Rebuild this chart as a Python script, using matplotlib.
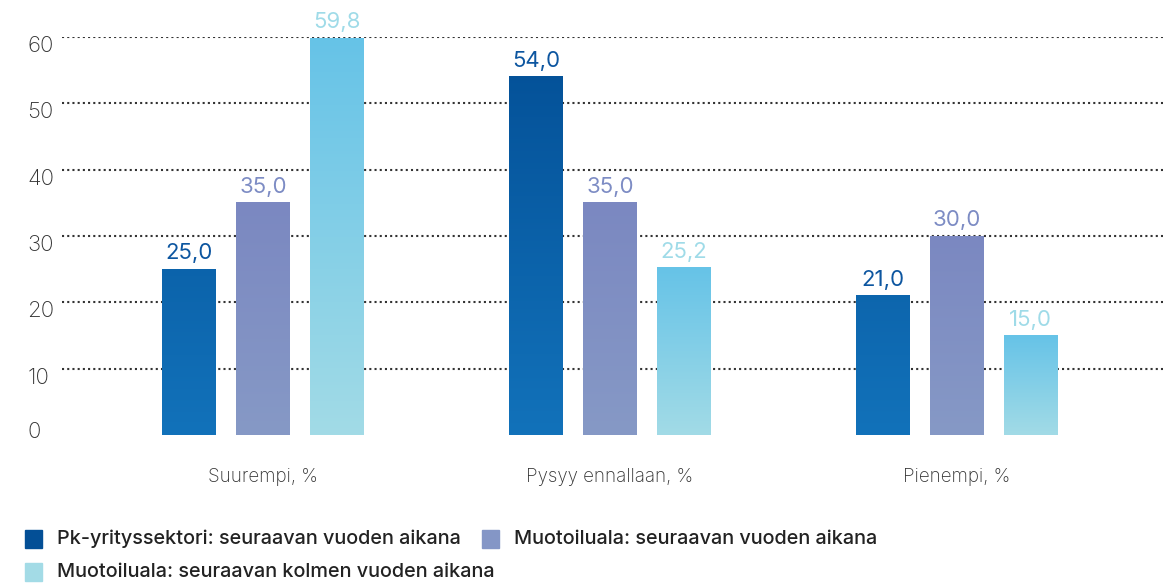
import numpy as np
import matplotlib.pyplot as plt
import matplotlib as mpl
from matplotlib.patches import Rectangle
from matplotlib.colors import LinearSegmentedColormap
from matplotlib.transforms import ScaledTranslation

mpl.rc('font', family=['Inter', 'DejaVu Sans'])

# --- data ---
categories = ['Suurempi, %', 'Pysyy ennallaan, %', 'Pienempi, %']
series_names = ['Pk-yrityssektori: seuraavan vuoden aikana',
                'Muotoiluala: seuraavan vuoden aikana',
                'Muotoiluala: seuraavan kolmen vuoden aikana']
pk_next_year = [25.0, 54.0, 21.0]
design_next_year = [35.0, 35.0, 30.0]
design_three_years = [59.8, 25.2, 15.0]
yticks = [0, 10, 20, 30, 40, 50, 60]

# colours: (top, bottom) of gradient, label colour, legend colour
grad = [('#034f96', '#1272ba'), ('#7b88c1', '#8699c6'), ('#66c3e8', '#a2dbe6')]
label_colors = ['#0d56a0', '#7d8cc4', '#9fdbe8']
legend_colors = ['#034f96', '#8496c6', '#a3dbe6']

fig = plt.figure(figsize=(11.63, 5.83), dpi=100)
W, H = 1163, 583
ax = fig.add_axes([62 / W, 1 - 435 / H, (W - 62) / W, (435 - 37) / H])

x = np.arange(len(categories))
width = 0.1556
step = 0.213
all_series = [pk_next_year, design_next_year, design_three_years]

for i, vals in enumerate(all_series):
    cmap = LinearSegmentedColormap.from_list(f'g{i}', [grad[i][1], grad[i][0]])
    for xi, v in zip(x + (i - 1) * step, vals):
        left = xi - width / 2
        # dark blue gradient runs over the whole axis, others per bar
        top = v / 60 if i == 0 else 1.0
        ax.imshow(np.linspace(0, top, 256).reshape(-1, 1), cmap=cmap, origin='lower',
                  vmin=0, vmax=1, extent=(left, left + width, 0, v), aspect='auto', zorder=3)
        ax.text(xi, v + 1.5, f'{v:.1f}'.replace('.', ','), ha='center', va='baseline',
                fontsize=16, color=label_colors[i], zorder=4)

ax.set_xlim(-0.579, 2.594)
ax.set_ylim(0, 60)

for y in yticks[1:]:
    ax.axhline(y, color='#333333', linestyle=(0, (1, 1.5)), linewidth=1.5, zorder=1)

ax.set_yticks(yticks)
ax.set_yticklabels([str(t) for t in yticks], fontsize=16, fontweight='light',
                   color='#333333', ha='left')
ax.tick_params(axis='y', length=0, pad=25)
for t, lbl in zip(yticks, ax.get_yticklabels()):
    dy = 0.05 if t == 0 else -0.07
    lbl.set_transform(lbl.get_transform() + ScaledTranslation(0, dy, fig.dpi_scale_trans))
ax.set_xticks(x)
ax.set_xticklabels(categories, fontsize=13.5, fontweight='light', color='#333333')
ax.tick_params(axis='x', length=0, pad=24)
for s in ax.spines.values():
    s.set_visible(False)

# legend (flow layout)
legend_pos = [(25, 539), (482, 539), (25, 572)]
for (px, py), name, col in zip(legend_pos, series_names, legend_colors):
    fig.patches.append(Rectangle((px / W, 1 - (py + 9) / H), 17 / W, 18 / H,
                                 transform=fig.transFigure, color=col))
    fig.text((px + 32) / W, 1 - py / H, name, fontsize=14.3, fontweight='medium',
             color='#222222', va='center', ha='left')

fig.savefig('out.png', dpi=100)
